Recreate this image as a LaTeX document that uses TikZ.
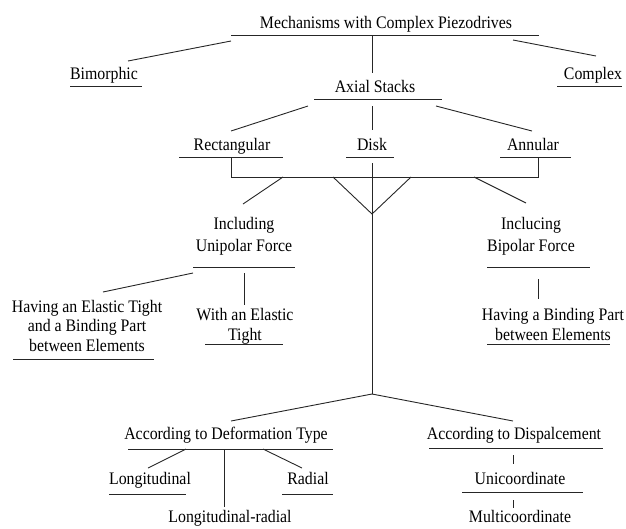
\documentclass[tikz,border=0pt]{standalone}
\usepackage{fontspec}
\setmainfont{Liberation Serif}[FakeStretch=0.9]
\tikzset{
  lbl/.style={anchor=base, inner sep=0pt, outer sep=0pt, align=center,
    font=\fontsize{17.6}{20}\selectfont},
  lbltwo/.style={lbl, font=\fontsize{17.6}{22}\selectfont},
  lblthree/.style={lbl, font=\fontsize{17.6}{19.5}\selectfont},
  uline/.style={draw=black!85, line width=0.9pt},
  conn/.style={draw=black!85, line width=0.9pt},
}
\begin{document}
\begin{tikzpicture}[x=1pt,y=-1pt]
\useasboundingbox (0,0) rectangle (626,528);

% ---- labels (base anchor = baseline of the last line) ----
\node[lbl] (title) at (386,28) {Mechanisms with Complex Piezodrives};
\node[lbl] (bim) at (104,79) {Bimorphic};
\node[lbl] (cplx) at (593,79) {Complex};
\node[lbl] (axial) at (375,92) {Axial Stacks};
\node[lbl] (rect) at (232,150) {Rectangular};
\node[lbl] (disk) at (372,150) {Disk};
\node[lbl] (ann) at (533,150) {Annular};
\node[lbltwo] (uni) at (244,251) {Including\\Unipolar Force};
\node[lbltwo] (bip) at (531,251) {Inclucing\\Bipolar Force};
\node[lblthree] (elbind) at (87,351) {Having an Elastic Tight\\and a Binding Part\\between Elements};
\node[lbl] (elastic) at (245,340) {With an Elastic\\Tight};
\node[lbl] (bind) at (553,340) {Having a Binding Part\\between Elements};
\node[lbl] (deform) at (226,439) {According to Deformation Type};
\node[lbl] (displ) at (514,439) {According to Dispalcement};
\node[lbl] (longi) at (150,484) {Longitudinal};
\node[lbl] (radial) at (308,484) {Radial};
\node[lbl] (lrad) at (230,522) {Longitudinal-radial};
\node[lbl] (unic) at (520,484) {Unicoordinate};
\node[lbl] (multi) at (520,522) {Multicoordinate};

% ---- underlines ----
\draw[uline] (231,35) -- (539,35);
\draw[uline] (70,86) -- (142,86);
\draw[uline] (557,86) -- (622,86);
\draw[uline] (314,99) -- (442,99);
\draw[uline] (179,157) -- (283,157);
\draw[uline] (346,157) -- (394,157);
\draw[uline] (500,157) -- (571,157);
\draw[uline] (193,267) -- (295,267);
\draw[uline] (487,267) -- (590,267);
\draw[uline] (13,359) -- (154,359);
\draw[uline] (205,344) -- (283,344);
\draw[uline] (487,344) -- (610,344);
\draw[uline] (128,449) -- (333,449);
\draw[uline] (429,448) -- (603,448);
\draw[uline] (109,494) -- (186,494);
\draw[uline] (282,494) -- (333,494);
\draw[uline] (462,492) -- (583,492);

% ---- connector end points ----
\coordinate (titleL) at (231,41);
\coordinate (titleM) at (372,35);
\coordinate (titleR) at (513,40);
\coordinate (bimT) at (128,61);
\coordinate (axialT) at (372,73);
\coordinate (cplxT) at (596,56);
\coordinate (axialL) at (308,106);
\coordinate (axialM) at (372,106);
\coordinate (axialR) at (436,106);
\coordinate (rectT) at (231,131);
\coordinate (diskT) at (372,130);
\coordinate (annT) at (532,131);
\coordinate (rectB) at (231,157);
\coordinate (annB) at (538,157);
\coordinate (brL) at (231,177);
\coordinate (brR) at (538,177);
\coordinate (br1) at (283,177);
\coordinate (br2) at (333,177);
\coordinate (br3) at (411,177);
\coordinate (br4) at (474,177);
\coordinate (diskB) at (372,163);
\coordinate (vtip) at (372,214);
\coordinate (uniT) at (243,204);
\coordinate (bipT) at (526,203);
\coordinate (uniL) at (193,273);
\coordinate (uniM) at (244,273);
\coordinate (elbindT) at (103,292);
\coordinate (elasticT) at (244,305);
\coordinate (bipM) at (538,279);
\coordinate (bindT) at (538,299);
\coordinate (fork) at (372,394);
\coordinate (deformT) at (231,421);
\coordinate (displT) at (513,421);
\coordinate (deformL) at (186,449);
\coordinate (deformM) at (224,449);
\coordinate (deformR) at (263,449);
\coordinate (longiT) at (148,468);
\coordinate (lradT) at (224,507);
\coordinate (radialT) at (302,468);
\coordinate (displB) at (513,455);
\coordinate (unicT) at (513,464);
\coordinate (unicB) at (513,500);
\coordinate (multiT) at (513,508);

% ---- connectors ----
\draw[conn] (titleL) -- (bimT);
\draw[conn] (titleM) -- (axialT);
\draw[conn] (titleR) -- (cplxT);
\draw[conn] (axialL) -- (rectT);
\draw[conn] (axialM) -- (diskT);
\draw[conn] (axialR) -- (annT);
\draw[conn] (rectB) -- (brL) -- (brR) -- (annB);
\draw[conn] (diskB) -- (fork);
\draw[conn] (br1) -- (uniT);
\draw[conn] (br2) -- (vtip) -- (br3);
\draw[conn] (br4) -- (bipT);
\draw[conn] (uniL) -- (elbindT);
\draw[conn] (uniM) -- (elasticT);
\draw[conn] (bipM) -- (bindT);
\draw[conn] (fork) -- (deformT);
\draw[conn] (fork) -- (displT);
\draw[conn] (deformL) -- (longiT);
\draw[conn] (deformM) -- (lradT);
\draw[conn] (deformR) -- (radialT);
\draw[conn] (displB) -- (unicT);
\draw[conn] (unicB) -- (multiT);
\end{tikzpicture}
\end{document}
